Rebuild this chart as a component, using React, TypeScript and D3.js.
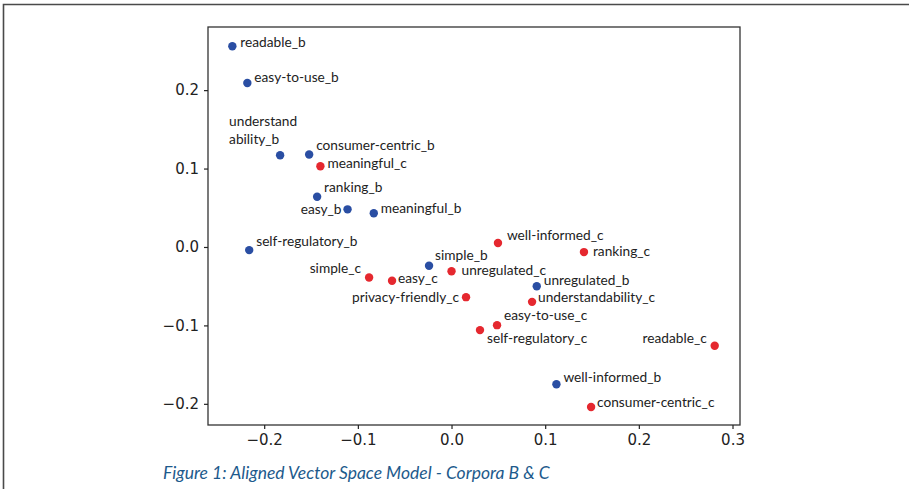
import { useEffect, useRef } from "react";
import * as d3 from "d3";

const W = 909;
const H = 489;
// plot box in page pixels
const BOX = { left: 208, top: 27, right: 740, bottom: 425 };

// corpus B points
const namesB = [
  "readable_b", "easy-to-use_b", "understandability_b", "consumer-centric_b",
  "ranking_b", "easy_b", "meaningful_b", "self-regulatory_b", "simple_b",
  "unregulated_b", "well-informed_b",
];
const xB = [-0.234, -0.218, -0.183, -0.152, -0.1435, -0.111, -0.083, -0.216, -0.024, 0.091, 0.112];
const yB = [0.256, 0.209, 0.117, 0.118, 0.064, 0.048, 0.043, -0.004, -0.024, -0.05, -0.175];

// corpus C points
const namesC = [
  "meaningful_c", "well-informed_c", "ranking_c", "simple_c", "easy_c",
  "unregulated_c", "privacy-friendly_c", "understandability_c", "easy-to-use_c",
  "self-regulatory_c", "readable_c", "consumer-centric_c",
];
const xC = [-0.14, 0.0496, 0.1414, -0.088, -0.0635, 0.0, 0.0155, 0.086, 0.0486, 0.0304, 0.281, 0.149];
const yC = [0.103, 0.005, -0.0065, -0.039, -0.043, -0.031, -0.064, -0.07, -0.0997, -0.106, -0.126, -0.204];

const xTicks = [-0.2, -0.1, 0.0, 0.1, 0.2, 0.3];
const yTicks = [-0.2, -0.1, 0.0, 0.1, 0.2];

// where each label sits relative to its dot: [dx, dy, anchor]
const labelPos: Record<string, [number, number, string]> = {
  "readable_b": [8, 1, "start"],
  "easy-to-use_b": [7, -1, "start"],
  "consumer-centric_b": [7, -4, "start"],
  "ranking_b": [7, -5, "start"],
  "easy_b": [-6, 5, "end"],
  "meaningful_b": [7, 0, "start"],
  "self-regulatory_b": [7, -4, "start"],
  "simple_b": [6, -6, "start"],
  "unregulated_b": [7, -1, "start"],
  "well-informed_b": [7, -2, "start"],
  "meaningful_c": [7, 2, "start"],
  "well-informed_c": [9, -3, "start"],
  "ranking_c": [9, 4, "start"],
  "simple_c": [-8, -5, "end"],
  "easy_c": [6, 2, "start"],
  "unregulated_c": [10, 3.5, "start"],
  "privacy-friendly_c": [-7, 5, "end"],
  "understandability_c": [6, 0, "start"],
  "easy-to-use_c": [7, -5, "start"],
  "self-regulatory_c": [7, 13, "start"],
  "readable_c": [-8, -3, "end"],
  "consumer-centric_c": [6, 0, "start"],
};

const BLUE = "#2a4ea3";
const RED = "#e5282f";
const LABEL_FONT = "Lato, 'Open Sans', sans-serif";

export default function App() {
  const xAxisRef = useRef<SVGGElement>(null);
  const yAxisRef = useRef<SVGGElement>(null);

  const x = d3.scaleLinear().domain([-0.26, 0.308]).range([BOX.left, BOX.right]);
  const y = d3.scaleLinear().domain([-0.227, 0.2805]).range([BOX.bottom, BOX.top]);

  useEffect(() => {
    const fmt = (d: d3.NumberValue) => d3.format(".1f")(d as number).replace("-", "\u2212");
    const gx = d3.select(xAxisRef.current);
    gx.selectAll("*").remove();
    gx.call(d3.axisBottom(x).tickValues(xTicks).tickFormat(fmt).tickSize(4).tickPadding(5));
    const gy = d3.select(yAxisRef.current);
    gy.selectAll("*").remove();
    gy.call(d3.axisLeft(y).tickValues(yTicks).tickFormat(fmt).tickSize(4).tickPadding(5));
    [gx, gy].forEach((g) => {
      g.select(".domain").remove();
      g.selectAll(".tick line").attr("stroke", "#222").attr("stroke-width", 1.2);
      g.selectAll(".tick text")
        .attr("fill", "#222")
        .style("font-family", "'DejaVu Sans', sans-serif")
        .style("font-size", "15px");
    });
  }, []);

  const points = [
    ...namesB.map((n, i) => ({ name: n, x: xB[i], y: yB[i], color: BLUE })),
    ...namesC.map((n, i) => ({ name: n, x: xC[i], y: yC[i], color: RED })),
  ];

  return (
    <svg width={W} height={H} style={{ position: "absolute", left: 0, top: 0, background: "#fff" }}>
      {/* page frame */}
      <path d={`M3.5,${H} V4.5 H${W}`} fill="none" stroke="#4a4a4a" strokeWidth={1.6} />

      <rect
        x={BOX.left}
        y={BOX.top}
        width={BOX.right - BOX.left}
        height={BOX.bottom - BOX.top}
        fill="none"
        stroke="#333"
        strokeWidth={1.3}
      />
      <g ref={xAxisRef} transform={`translate(0,${BOX.bottom})`} />
      <g ref={yAxisRef} transform={`translate(${BOX.left},0)`} />

      {points.map((p) => (
        <circle key={p.name} cx={x(p.x)} cy={y(p.y)} r={4.2} fill={p.color} />
      ))}

      <g fontFamily={LABEL_FONT} fontSize={13.7} fill="#222">
        {points
          .filter((p) => p.name !== "understandability_b")
          .map((p) => {
            const [dx, dy, anchor] = labelPos[p.name];
            return (
              <text key={p.name} x={x(p.x) + dx} y={y(p.y) + dy} textAnchor={anchor}>
                {p.name}
              </text>
            );
          })}
        {/* this one is wrapped over two lines in the original */}
        <text x={x(xB[2]) - 51} y={y(yB[2]) - 29}>understand</text>
        <text x={x(xB[2]) - 51} y={y(yB[2]) - 11}>ability_b</text>
      </g>

      <text
        x={163}
        y={479}
        fontFamily={LABEL_FONT}
        fontStyle="italic"
        fontSize={17.5}
        fill="#1d5a8c"
      >
        Figure 1: Aligned Vector Space Model - Corpora B &amp; C
      </text>
    </svg>
  );
}
